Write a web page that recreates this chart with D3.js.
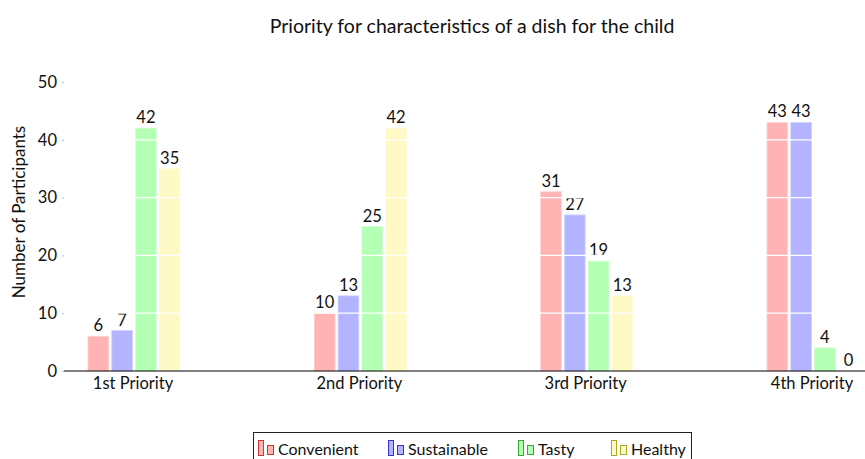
<!DOCTYPE html>
<html>
<head>
<meta charset="utf-8">
<script src="https://cdn.jsdelivr.net/npm/d3@7"></script>
<style>
  body { margin: 0; background: #fff; }
  text { font-family: Lato, "Open Sans", sans-serif; fill: #111; }
</style>
</head>
<body>
<svg id="chart"></svg>
<script>
// data
const priorities = ['1st Priority', '2nd Priority', '3rd Priority', '4th Priority'];
const seriesNames = ['Convenient', 'Sustainable', 'Tasty', 'Healthy'];
const convenient = [6, 10, 31, 43];
const sustainable = [7, 13, 27, 43];
const tasty = [42, 25, 19, 4];
const healthy = [35, 42, 13, 0];
const yTicks = [0, 10, 20, 30, 40, 50];

const fills = ['#ffb3b3', '#b3b3ff', '#b3ffb3', '#fff9c6'];
const edges = ['#ffd0d0', '#d0d0ff', '#d0ffd0', '#fffbe0'];
const legendEdges = ['#cc3333', '#3333cc', '#33aa33', '#aaaa22'];

const width = 865, height = 459;
const axisLeft = 64, axisRight = 865;

const svg = d3.select('#chart').attr('width', width).attr('height', height);

const yScale = d3.scaleLinear().domain([0, 50]).range([371, 82]);
const xScale = d3.scalePoint().domain(priorities).range([132.5, 811.5]);
const barScale = d3.scaleBand().domain(seriesNames).range([-44.5, 47.5]).paddingInner(0.13);

const allSeries = [convenient, sustainable, tasty, healthy];

// bars
seriesNames.forEach((name, i) => {
  const g = svg.append('g');
  g.selectAll('rect')
    .data(allSeries[i])
    .enter()
    .append('rect')
    .attr('x', (d, j) => xScale(priorities[j]) + barScale(name))
    .attr('width', barScale.bandwidth())
    .attr('y', d => yScale(d))
    .attr('height', d => yScale(0) - yScale(d))
    .attr('fill', fills[i])
    .attr('stroke', edges[i])
    .attr('stroke-width', 0.8);

  g.selectAll('text')
    .data(allSeries[i])
    .enter()
    .append('text')
    .attr('x', (d, j) => xScale(priorities[j]) + barScale(name) + barScale.bandwidth() / 2)
    .attr('y', d => yScale(d) - 5)
    .attr('text-anchor', 'middle')
    .style('font-size', '16.5px')
    .text(d => d);
});

// white grid over bars
svg.append('g')
  .selectAll('line')
  .data(yTicks.slice(1))
  .enter()
  .append('line')
  .attr('x1', axisLeft)
  .attr('x2', axisRight)
  .attr('y1', d => yScale(d))
  .attr('y2', d => yScale(d))
  .attr('stroke', '#fff')
  .attr('stroke-width', 1.3);

// y axis
const yAxis = d3.axisLeft(yScale).tickValues(yTicks).tickSize(2).tickPadding(5);
const yg = svg.append('g')
  .attr('transform', `translate(${axisLeft}, 0)`)
  .call(yAxis);
yg.select('.domain').remove();
yg.selectAll('.tick line').attr('stroke', '#bbb');
yg.selectAll('.tick text').style('font-size', '16.5px').style('font-family', 'Lato, sans-serif').attr('fill', '#111');

// x axis
const xAxis = d3.axisBottom(xScale).tickSize(0).tickPadding(6);
const xg = svg.append('g')
  .attr('transform', `translate(0, ${yScale(0)})`)
  .call(xAxis);
xg.select('.domain').remove();
xg.selectAll('.tick text').style('font-size', '16.5px').style('font-family', 'Lato, sans-serif').attr('fill', '#111');
svg.append('line')
  .attr('x1', axisLeft).attr('x2', axisRight)
  .attr('y1', yScale(0)).attr('y2', yScale(0))
  .attr('stroke', '#000').attr('stroke-width', 1.2);

// title + y label
svg.append('text')
  .attr('x', 472).attr('y', 33)
  .attr('text-anchor', 'middle')
  .style('font-size', '19.5px')
  .text('Priority for characteristics of a dish for the child');

svg.append('text')
  .attr('transform', 'translate(25, 212) rotate(-90)')
  .attr('text-anchor', 'middle')
  .style('font-size', '17px')
  .text('Number of Participants');

// legend
const legendX = [258, 388, 518, 611];
const legend = svg.append('g');
legend.append('rect')
  .attr('x', 253.5).attr('y', 432.5)
  .attr('width', 438).attr('height', 40)
  .attr('fill', '#fff').attr('stroke', '#222').attr('stroke-width', 1);
seriesNames.forEach((name, i) => {
  const lg = legend.append('g').attr('transform', `translate(${legendX[i]}, 0)`);
  lg.append('rect').attr('x', 0.5).attr('y', 440.5).attr('width', 5).attr('height', 15)
    .attr('fill', fills[i]).attr('stroke', legendEdges[i]).attr('stroke-width', 1);
  lg.append('rect').attr('x', 9.5).attr('y', 445.5).attr('width', 6).attr('height', 9)
    .attr('fill', fills[i]).attr('stroke', legendEdges[i]).attr('stroke-width', 1);
  lg.append('text').attr('x', 20).attr('y', 455)
    .style('font-size', '16px')
    .text(name);
});
</script>
</body>
</html>
